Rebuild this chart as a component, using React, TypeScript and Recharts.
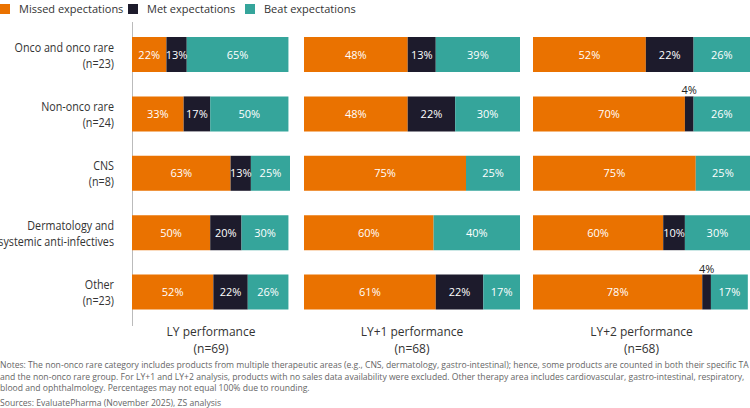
import { BarChart, Bar, XAxis, YAxis, LabelList } from "recharts";

const categories = [
  ["Onco and onco rare", "(n=23)"],
  ["Non-onco rare", "(n=24)"],
  ["CNS", "(n=8)"],
  ["Dermatology and", "systemic anti-infectives"],
  ["Other", "(n=23)"],
];

const lyMissed = [22, 33, 63, 50, 52];
const lyMet = [13, 17, 13, 20, 22];
const lyBeat = [65, 50, 25, 30, 26];

const ly1Missed = [48, 48, 75, 60, 61];
const ly1Met = [13, 22, 0, 0, 22];
const ly1Beat = [39, 30, 25, 40, 17];

const ly2Missed = [52, 70, 75, 60, 78];
const ly2Met = [22, 4, 0, 10, 4];
const ly2Beat = [26, 26, 25, 30, 17];

const panelTitles = [
  ["LY performance", "(n=69)"],
  ["LY+1 performance", "(n=68)"],
  ["LY+2 performance", "(n=68)"],
];

const ORANGE = "#EA7200";
const DARK = "#1D1B2C";
const TEAL = "#35A59B";
const FONT = "'Open Sans', sans-serif";

const build = (m: number[], t: number[], b: number[]) =>
  categories.map((c, i) => ({ name: i, missed: m[i], met: t[i], beat: b[i] }));

const panels = [
  build(lyMissed, lyMet, lyBeat),
  build(ly1Missed, ly1Met, ly1Beat),
  build(ly2Missed, ly2Met, ly2Beat),
];

const SegLabel = (props: any) => {
  const { x, y, width, height, value } = props;
  if (!value) return null;
  if (value < 5) {
    return (
      <text x={x + width / 2} y={y - 2} textAnchor="middle" fontSize={11} fill="#222" fontFamily={FONT}>
        {value}%
      </text>
    );
  }
  return (
    <text x={x + width / 2} y={y + height / 2 + 4} textAnchor="middle" fontSize={11} fill="#fff" fontFamily={FONT}>
      {value}%
    </text>
  );
};

const CatTick = (props: any) => {
  const { x, y, payload } = props;
  const lines = categories[payload.value];
  const ax = x - 10;
  return (
    <g transform={`translate(${ax},0) scale(0.86,1)`}>
      <text x={0} y={y - 3} textAnchor="end" fontSize={12.5} fill="#333" fontFamily={FONT}>
        <tspan x={0}>{lines[0]}</tspan>
        <tspan x={0} dy={16}>{lines[1]}</tspan>
      </text>
    </g>
  );
};

const layout = [
  { left: 0, width: 290, axis: 132 },
  { left: 304, width: 216, axis: 0 },
  { left: 533, width: 217, axis: 0 },
];

export default function App() {
  return (
    <div style={{ position: "absolute", left: 0, top: 0, width: 750, height: 408, background: "#fff", fontFamily: FONT, overflow: "hidden" }}>
      {/* legend */}
      {[
        { c: ORANGE, t: "Missed expectations", x: 0 },
        { c: DARK, t: "Met expectations", x: 128 },
        { c: TEAL, t: "Beat expectations", x: 245 },
      ].map((l) => (
        <div key={l.t} style={{ position: "absolute", left: l.x, top: 1, display: "flex", alignItems: "center", fontSize: 11, color: "#333" }}>
          <span style={{ width: 10, height: 10, background: l.c, display: "inline-block", marginRight: 9 }} />
          {l.t}
        </div>
      ))}
      <div style={{ position: "absolute", left: 132, top: 22, width: 1, height: 304, background: "#bbb" }} />
      {panels.map((data, p) => (
        <div key={p} style={{ position: "absolute", left: layout[p].left, top: 25 }}>
          <BarChart width={layout[p].width} height={297} data={data} layout="vertical" margin={{ top: 0, right: 0, bottom: 0, left: 0 }} barCategoryGap={12}>
            <XAxis type="number" domain={[0, 100]} hide />
            <YAxis
              type="category"
              dataKey="name"
              width={layout[p].axis}
              hide={layout[p].axis === 0}
              axisLine={false}
              tickLine={false}
              tick={<CatTick />}
            />
            <Bar dataKey="missed" stackId="a" fill={ORANGE} isAnimationActive={false}>
              <LabelList dataKey="missed" content={<SegLabel />} />
            </Bar>
            <Bar dataKey="met" stackId="a" fill={DARK} isAnimationActive={false}>
              <LabelList dataKey="met" content={<SegLabel />} />
            </Bar>
            <Bar dataKey="beat" stackId="a" fill={TEAL} isAnimationActive={false}>
              <LabelList dataKey="beat" content={<SegLabel />} />
            </Bar>
          </BarChart>
          <div style={{ position: "absolute", left: layout[p].axis, width: layout[p].width - layout[p].axis, top: 298, textAlign: "center", fontSize: 12, color: "#333", lineHeight: "17px" }}>
            {panelTitles[p][0]}
            <br />
            {panelTitles[p][1]}
          </div>
        </div>
      ))}
      <div style={{ position: "absolute", left: 0, top: 360, width: 750, fontSize: 8.6, color: "#666", lineHeight: "11.5px" }}>
        Notes: The non-onco rare category includes products from multiple therapeutic areas (e.g., CNS, dermatology, gastro-intestinal); hence, some products are counted in both their specific TA and the non-onco rare group. For LY+1 and LY+2 analysis, products with no sales data availability were excluded. Other therapy area includes cardiovascular, gastro-intestinal, respiratory, blood and ophthalmology. Percentages may not equal 100% due to rounding.
      </div>
      <div style={{ position: "absolute", left: 0, top: 397, fontSize: 8.6, color: "#666" }}>
        Sources: EvaluatePharma (November 2025), ZS analysis
      </div>
    </div>
  );
}
